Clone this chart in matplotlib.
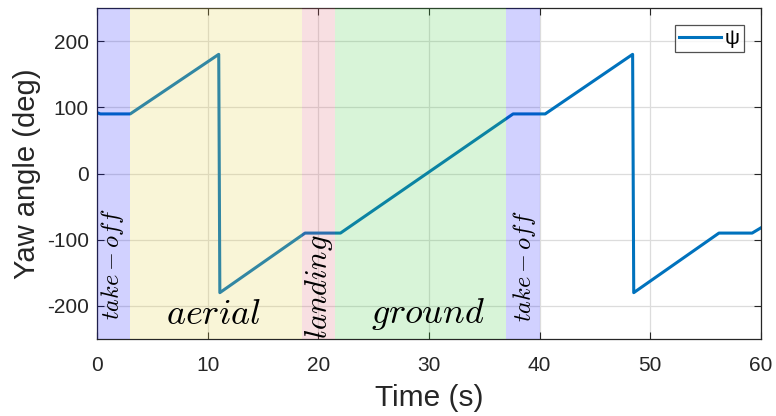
import matplotlib
matplotlib.use("Agg")
import matplotlib.pyplot as plt

plt.rcParams['font.family'] = ['Liberation Sans', 'DejaVu Sans']
plt.rcParams['mathtext.fontset'] = 'cm'
plt.rcParams['axes.unicode_minus'] = False

# Yaw angle trajectory (time in s, angle in deg)
time = [0.0, 0.3, 3.0, 11.0, 11.1, 18.8, 22.0, 37.6, 40.5, 48.4, 48.5, 56.2, 59.2, 60.0]
yaw = [92, 90, 90, 180, -180, -90, -90, 90, 90, 180, -180, -90, -90, -82]

# Flight phases
phase_start = [0.0, 3.0, 18.5, 21.5, 37.0]
phase_end = [3.0, 18.5, 21.5, 37.0, 40.0]
phase_label = [r'$take-off$', r'$aerial$', r'$landing$', r'$ground$', r'$take-off$']
phase_color = ['#0000ff', '#e6d24a', '#e06070', '#3ccc3c', '#0000ff']
phase_alpha = [0.18, 0.22, 0.2, 0.2, 0.18]
label_x = [1.4, 10.5, 20.1, 29.9, 38.6]
label_y = [-137, -240, -171, -240, -140]
label_rot = [90, 0, 90, 0, 90]
label_size = [17.5, 26, 22, 26, 17.5]

xticks = [0, 10, 20, 30, 40, 50, 60]
yticks = [-200, -100, 0, 100, 200]

fig = plt.figure(figsize=(7.76, 4.16), dpi=100)
ax = fig.add_axes([97/776, 1 - 339/416, (761-97)/776, (339-8)/416])

ax.plot(time, yaw, color='#0072BD', lw=2.2, label='ψ', zorder=2)

for s, e, c, a in zip(phase_start, phase_end, phase_color, phase_alpha):
    ax.axvspan(s, e, color=c, alpha=a, lw=0, zorder=3)

for lab, lx, ly, rot, fs in zip(phase_label, label_x, label_y, label_rot, label_size):
    if rot:
        ax.text(lx, ly, lab, rotation=90, ha='center', va='center', fontsize=fs,
                zorder=4, clip_on=True)
    else:
        ax.text(lx, ly, lab, ha='center', va='bottom', fontsize=fs, zorder=4)

ax.set_xlim(0, 60)
ax.set_ylim(-250, 250)
ax.set_xticks(xticks)
ax.set_yticks(yticks)
ax.tick_params(direction='in', top=True, right=True, labelsize=15, colors='#262626', length=5)
ax.tick_params(axis='x', pad=12)
ax.tick_params(axis='y', pad=6)
ax.grid(True, color='#dcdcdc', lw=0.9)
ax.set_axisbelow(True)
for sp in ax.spines.values():
    sp.set_color('#262626')
    sp.set_linewidth(0.9)

ax.set_xlabel('Time (s)', fontsize=21.5, color='#262626', labelpad=7)
ax.set_ylabel('Yaw angle (deg)', fontsize=21, color='#262626', labelpad=4)

leg = ax.legend(loc='upper right', fontsize=15, frameon=True, fancybox=False,
                edgecolor='#262626', handlelength=2.0, borderpad=0.2, handletextpad=0.2,
                bbox_to_anchor=(0.99, 0.98))
leg.get_frame().set_linewidth(0.9)
leg.set_zorder(5)

fig.savefig('out.png', dpi=100)
